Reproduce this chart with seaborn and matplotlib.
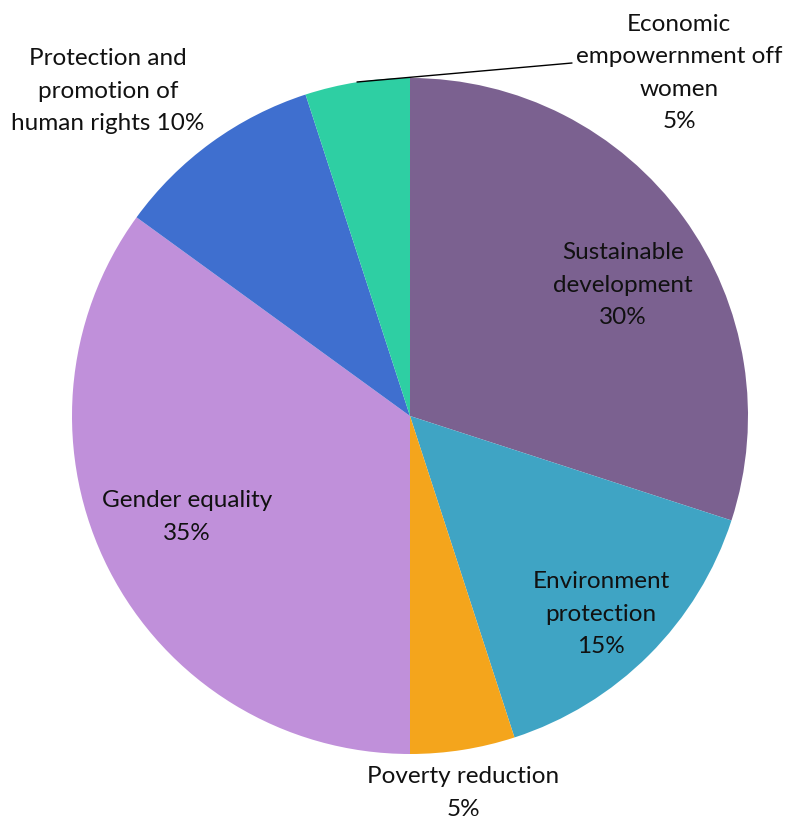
import matplotlib
matplotlib.use("Agg")
import matplotlib.pyplot as plt
import seaborn as sns

# slice order: clockwise from 12 o'clock
categories = ['Sustainable development', 'Environment protection', 'Poverty reduction',
              'Gender equality', 'Protection and promotion of human rights',
              'Economic empowernment off women']
shares = [30, 15, 5, 35, 10, 5]
label_lines = [
    'Sustainable\ndevelopment\n{}%',
    'Environment\nprotection\n{}%',
    'Poverty reduction\n{}%',
    'Gender equality\n{}%',
    'Protection and\npromotion of\nhuman rights {}%',
    'Economic\nempowernment off\nwomen\n{}%',
]
colors = ['#7B6190', '#3FA4C4', '#F4A51C', '#C090DA', '#3F6FCF', '#2ECFA3']

sns.set_theme(style='white')
plt.rcParams['font.family'] = ['Lato', 'DejaVu Sans']

W, H = 788, 821
fig = plt.figure(figsize=(W / 100, H / 100), dpi=100)
ax = fig.add_axes([0, 0, 1, 1])

# pie laid out in pixel space (origin bottom-left)
ax.pie(shares, colors=colors, startangle=90, counterclock=False,
       center=(410, H - 416), radius=338, frame=True,
       wedgeprops=dict(linewidth=0))
ax.set_xlim(0, W)
ax.set_ylim(0, H)
ax.set_aspect('equal')
ax.axis('off')

label_pos = [(623, 285), (601, 614), (463, 793), (187, 517), (108, 91), (679, 73)]
for txt, val, (x, y) in zip(label_lines, shares, label_pos):
    ax.text(x, H - y, txt.format(val), ha='center', va='center', fontsize=17.5,
            linespacing=1.65, color='#111111')

# leader line for the small top slice
ax.plot([357, 572], [H - 82, H - 63], color='black', lw=1)

fig.savefig('out.png', dpi=100)
